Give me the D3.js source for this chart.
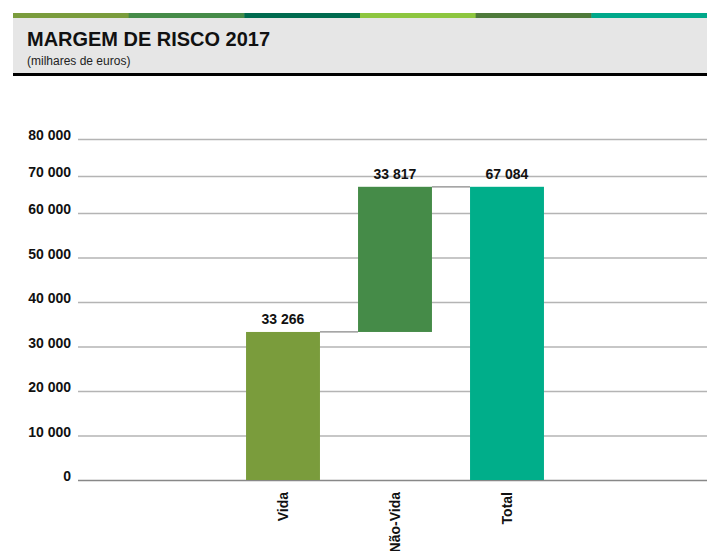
<!DOCTYPE html>
<html>
<head>
<meta charset="utf-8">
<script src="https://cdn.jsdelivr.net/npm/d3@7"></script>
<style>
  body { margin: 0; background: #fff; }
  svg { display: block; font-family: 'Liberation Sans', Arial, sans-serif; }
</style>
</head>
<body>
<div id="chart"></div>
<script>
const categories = ['Vida', 'Não-Vida', 'Total'];
const values = [33266, 33817, 67084];
const labels = ['33 266', '33 817', '67 084'];
const tickValues = [0, 10000, 20000, 30000, 40000, 50000, 60000, 70000, 80000];
const tickLabels = ['0', '10 000', '20 000', '30 000', '40 000', '50 000', '60 000', '70 000', '80 000'];
const barColors = ['#7a9c3c', '#458b48', '#00ae8a'];
const stripeColors = ['#7a9c3c', '#458b48', '#006b4f', '#8dc63f', '#4e7a3a', '#00a88a'];

const width = 707, height = 551;
const svg = d3.select('#chart').append('svg')
  .attr('width', width)
  .attr('height', height);

// Header
const stripe = d3.scaleBand().domain(d3.range(stripeColors.length)).range([13, 707]);
svg.selectAll('rect.stripe')
  .data(stripeColors)
  .join('rect')
  .attr('class', 'stripe')
  .attr('x', (d, i) => stripe(i))
  .attr('y', 13)
  .attr('width', stripe.bandwidth() + 0.5)
  .attr('height', 5)
  .attr('fill', d => d);

svg.append('rect')
  .attr('x', 13).attr('y', 18)
  .attr('width', width - 13).attr('height', 55)
  .attr('fill', '#e6e6e6');

svg.append('rect')
  .attr('x', 13).attr('y', 73)
  .attr('width', width - 13).attr('height', 3)
  .attr('fill', '#000');

svg.append('text')
  .attr('x', 27).attr('y', 46)
  .attr('font-size', 21)
  .attr('font-weight', 'bold')
  .attr('fill', '#111')
  .attr('textLength', 243)
  .attr('lengthAdjust', 'spacingAndGlyphs')
  .text('MARGEM DE RISCO 2017');

svg.append('text')
  .attr('x', 27).attr('y', 65)
  .attr('font-size', 12)
  .attr('fill', '#222')
  .text('(milhares de euros)');

// Scales
const y = d3.scaleLinear()
  .domain([0, 60000, 80000])
  .range([480, 213, 139]);

const x = d3.scaleBand()
  .domain(categories)
  .range([227, 563])
  .paddingInner(0.34)
  .paddingOuter(0.17);

// Gridlines + tick labels
const yAxis = svg.append('g')
  .attr('transform', 'translate(78,0)')
  .call(d3.axisLeft(y)
    .tickValues(tickValues)
    .tickSize(-(width - 78))
    .tickPadding(7)
    .tickFormat((d, i) => tickLabels[i]));

yAxis.select('.domain').remove();
yAxis.selectAll('.tick line')
  .attr('stroke', d => d === 0 ? '#888' : '#b4b4b4')
  .attr('stroke-width', 1.5);
yAxis.selectAll('.tick text')
  .attr('font-size', 14)
  .attr('font-weight', 'bold')
  .attr('fill', '#111')
  .attr('dy', '0.05em')
  .attr('font-family', "'Liberation Sans', Arial, sans-serif");

// Waterfall bars
const bases = [0, values[0], 0];
const bars = categories.map((c, i) => ({
  name: c,
  low: bases[i],
  high: bases[i] + values[i],
  label: labels[i],
  color: barColors[i]
}));

svg.selectAll('rect.bar')
  .data(bars)
  .join('rect')
  .attr('class', 'bar')
  .attr('x', d => x(d.name))
  .attr('width', x.bandwidth())
  .attr('y', d => y(d.high))
  .attr('height', d => y(d.low) - y(d.high))
  .attr('fill', d => d.color);

// Connectors
const connectors = [
  { from: 0, to: 1, v: bars[0].high },
  { from: 1, to: 2, v: bars[1].high }
];
svg.selectAll('line.conn')
  .data(connectors)
  .join('line')
  .attr('class', 'conn')
  .attr('x1', d => x(categories[d.from]) + x.bandwidth())
  .attr('x2', d => x(categories[d.to]))
  .attr('y1', d => y(d.v))
  .attr('y2', d => y(d.v))
  .attr('stroke', '#888')
  .attr('stroke-width', 1.2);

// Value labels
svg.selectAll('text.val')
  .data(bars)
  .join('text')
  .attr('class', 'val')
  .attr('x', d => x(d.name) + x.bandwidth() / 2)
  .attr('y', d => y(d.high) - 8)
  .attr('text-anchor', 'middle')
  .attr('font-size', 14)
  .attr('font-weight', 'bold')
  .attr('fill', '#111')
  .text(d => d.label);

// Category labels
svg.selectAll('text.cat')
  .data(categories)
  .join('text')
  .attr('class', 'cat')
  .attr('transform', d => `translate(${x(d) + x.bandwidth() / 2 + 5},492) rotate(-90)`)
  .attr('text-anchor', 'end')
  .attr('font-size', 14)
  .attr('font-weight', 'bold')
  .attr('fill', '#111')
  .text(d => d);
</script>
</body>
</html>
